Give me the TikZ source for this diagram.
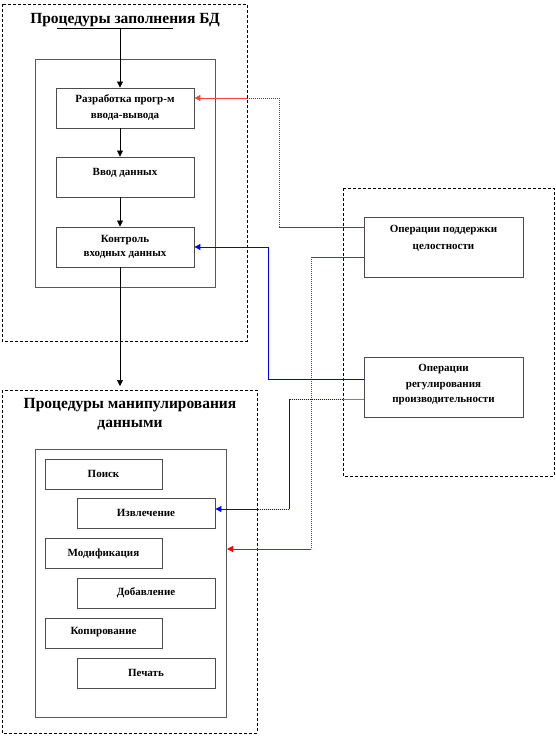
\documentclass[tikz,border=0pt]{standalone}
\usepackage{fontspec}
\setmainfont{Liberation Serif}
\usetikzlibrary{arrows.meta}
\tikzset{
  dashbox/.style={draw=black, dash pattern=on 3pt off 2pt, line width=0.6pt},
  innerbox/.style={draw=black!65, line width=1pt},
  pbox/.style={draw=black!70, line width=0.9pt, fill=white, inner sep=0pt,
    font=\bfseries\fontsize{11}{16}\selectfont, align=center},
  ttl/.style={font=\bfseries\fontsize{15.5}{19}\selectfont, align=center, inner sep=0pt},
  arrtip/.style={-{Triangle[length=6pt,width=6pt]}},
  redl/.style={draw=red, line width=1pt},
  redd/.style={draw=red, line width=1pt, dash pattern=on 1pt off 1pt},
  bluel/.style={draw=blue, line width=1pt},
  blued/.style={draw=blue, line width=1pt, dash pattern=on 1pt off 1pt},
}
\begin{document}
\begin{tikzpicture}[x=1pt,y=-1pt]
\useasboundingbox (0,0) rectangle (556,740);
% outer dashed boxes
\draw[dashbox] (2,4) rectangle (247,341);
\draw[dashbox] (2,390) rectangle (257,733);
\draw[dashbox] (343,188) rectangle (554,476);
% inner solid boxes
\draw[innerbox] (35,59) rectangle (215,287);
\draw[innerbox] (35,449) rectangle (226,717);
\node[coordinate] (in2e) at (227,549) {};
% titles
\node[ttl] (t1) at (125,20) {Процедуры заполнения БД};
\draw[line width=0.8pt] (57,28) -- (173,28);
\node[coordinate] (t1a) at (120,28) {};
\node[ttl] (t2) at (130,414) {Процедуры манипулирования\\данными};
% top boxes
\node[pbox, minimum width=138pt, minimum height=40pt] (b1) at (125,108) {Разработка прогр-м\\ввода-вывода};
\node[pbox, minimum width=138pt, minimum height=40pt, text depth=11pt] (b2) at (125,177) {Ввод данных};
\node[pbox, minimum width=138pt, minimum height=40pt, font=\bfseries\fontsize{11}{14}\selectfont] (b3) at (125,247) {Контроль\\входных данных};
% right boxes
\node[pbox, minimum width=159pt, minimum height=60pt, font=\bfseries\fontsize{11}{17}\selectfont, text depth=19pt] (sup) at (443.5,247) {Операции поддержки\\целостности};
\node[pbox, minimum width=159pt, minimum height=60pt, font=\bfseries\fontsize{11}{15.5}\selectfont, text depth=7pt] (reg) at (443.5,387) {Операции\\регулирования\\производительности};
% bottom boxes
\node[pbox, minimum width=117pt, minimum height=30pt] (p1) at (103.5,474) {Поиск};
\node[pbox, minimum width=138pt, minimum height=30pt] (p2) at (146,513) {Извлечение};
\node[pbox, minimum width=117pt, minimum height=30pt] (p3) at (103.5,553.5) {Модификация};
\node[pbox, minimum width=138pt, minimum height=30pt] (p4) at (146,593) {Добавление};
\node[pbox, minimum width=117pt, minimum height=30pt, text depth=5pt] (p5) at (103.5,633) {Копирование};
\node[pbox, minimum width=138pt, minimum height=30pt] (p6) at (146,673) {Печать};
% black arrows
\draw[arrtip, line width=0.7pt] (t1a) -- ([xshift=-5pt]b1.north);
\draw[arrtip, line width=0.7pt] ([xshift=-5pt]b1.south) -- ([xshift=-5pt]b2.north);
\draw[arrtip, line width=0.7pt] ([xshift=-5pt]b2.south) -- ([xshift=-5pt]b3.north);
\node[coordinate] (t2a) at (120,386) {};
\draw[arrtip, line width=0.7pt] ([xshift=-5pt]b3.south) -- (t2a);
% red connector 1
\node[coordinate] (ra) at (279,227) {};
\node[coordinate] (rb) at (279,98) {};
\node[coordinate] (rc) at (247,98) {};
\draw[redl] ([yshift=20pt]sup.west) -- (ra);
\draw[redd] (ra) -- (rb) -- (rc);
\draw[redl, arrtip, draw=red!75, fill=red] (rc) -- ([yshift=10pt]b1.east);
% red connector 2
\node[coordinate] (rd) at (311,257) {};
\node[coordinate] (re) at (311,549) {};
\draw[redl] ([yshift=-10pt]sup.west) -- (rd);
\draw[redd] (rd) -- (re);
\draw[redl, arrtip] (re) -- (in2e);
% blue connector 1
\node[coordinate] (ba) at (268,379) {};
\node[coordinate] (bb) at (268,247) {};
\draw[bluel, arrtip] ([yshift=8pt]reg.west) -- (ba) -- (bb) -- (b3.east);
% blue connector 2
\node[coordinate] (bc) at (343,399) {};
\node[coordinate] (bd) at (289,399) {};
\node[coordinate] (be) at (289,509) {};
\node[coordinate] (bf) at (258,509) {};
\draw[bluel, draw=blue!55] ([yshift=-12pt]reg.west) -- (bc);
\draw[blued] (bc) -- (bd);
\draw[bluel] (bd) -- (be);
\draw[blued] (be) -- (bf);
\draw[bluel, arrtip] (bf) -- ([yshift=4pt]p2.east);
\end{tikzpicture}
\end{document}
